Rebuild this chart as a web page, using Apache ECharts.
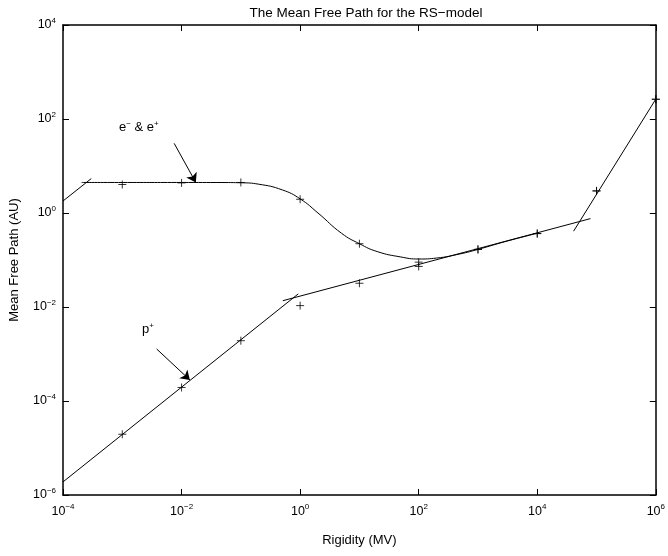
<!DOCTYPE html>
<html>
<head>
<meta charset="utf-8">
<script src="https://cdn.jsdelivr.net/npm/echarts@6/dist/echarts.min.js"></script>
<style>
html, body { margin: 0; padding: 0; background: #fff; }
#chart { width: 668px; height: 556px; }
</style>
</head>
<body>
<div id="chart"></div>
<script>
// values (Rigidity in MV, mean free path in AU)
var markX = [1e-3, 1e-2, 1e-1, 1, 10, 100, 1e3, 1e4, 1e5, 1e6];
var electronMarks = [4.04, 4.37, 4.46, 1.96, 0.222, 0.09, 0.168, 0.365, 2.95, 263];
var protonMarks = [1.96e-5, 1.94e-4, 1.92e-3, 0.0107, 0.032, 0.073, 0.168, 0.365, 2.95, 263];

var eCurveX = [2.06e-4, 1e-3, 1e-2, 0.05, 0.1, 0.2, 0.5, 1, 2, 5, 10, 20, 50, 100, 200, 500, 1e3, 3e3, 1e4];
var eCurveY = [4.46, 4.46, 4.46, 4.45, 4.4, 4.1, 3.1, 2.0, 1.0, 0.37, 0.222, 0.151, 0.116, 0.105, 0.11, 0.135, 0.168, 0.25, 0.37];
var eLeftX = [1e-4, 3.0e-4];
var eLeftY = [1.8, 5.4];
var pLowX = [1e-4, 0.93];
var pLowY = [1.9e-6, 0.019];
var pMidX = [0.51, 7.9e4];
var pMidY = [0.0136, 0.76];
var highX = [4.1e4, 1e6];
var highY = [0.41, 265];

function lg(v) { return Math.log(v) / Math.LN10; }
function pairs(xs, ys) {
	var out = [];
	for (var i = 0; i < xs.length; i++) {
		out.push([lg(xs[i]), lg(ys[i])]);
	}
	return out;
}
function powLabel(v) {
	var n = Math.round(v);
	return '{b|10}{s|' + (n < 0 ? '\u2212' + (-n) : n) + '}';
}
var font = 'Liberation Sans';
var rich = {
	b: { fontSize: 12.5, fontFamily: font, color: '#000' },
	s: { fontSize: 8, fontFamily: font, color: '#000', padding: [0, 0, 9, 0] }
};
var plus = 'path://M0,-1L0,1M-1,0L1,0';

function lineSeries(xs, ys, smooth) {
	return {
		type: 'line',
		data: pairs(xs, ys),
		showSymbol: false,
		smooth: smooth ? 0.5 : false,
		lineStyle: { color: '#000', width: 1 },
		silent: true
	};
}
function markSeries(ys) {
	return {
		type: 'scatter',
		data: pairs(markX, ys),
		symbol: plus,
		symbolSize: 8,
		clip: false,
		itemStyle: { color: 'none', borderColor: '#000', borderWidth: 1 },
		silent: true
	};
}
function axis(min, max, pos, labels) {
	return {
		type: 'value',
		show: true,
		gridIndex: 0,
		position: pos,
		min: min,
		max: max,
		interval: 2,
		axisLine: { show: true, onZero: false, lineStyle: { color: '#000', width: 1.5 } },
		axisTick: { show: true, inside: true, length: 6, interval: 0, lineStyle: { color: '#000', width: 1 } },
		axisLabel: labels ? { show: true, formatter: powLabel, rich: rich, margin: (pos === 'left' ? 7 : 8) } : { show: false },
		splitLine: { show: false }
	};
}

var chart = echarts.init(document.getElementById('chart'));
var xBottom = axis(-4, 6, 'bottom', true);
xBottom.name = 'Rigidity (MV)';
xBottom.nameLocation = 'middle';
xBottom.nameGap = 39;
xBottom.nameTextStyle = { fontSize: 13, fontFamily: font, color: '#000' };
var yLeft = axis(-6, 4, 'left', true);
yLeft.name = 'Mean Free Path (AU)';
yLeft.nameLocation = 'middle';
yLeft.nameGap = 42;
yLeft.nameTextStyle = { fontSize: 13, fontFamily: font, color: '#000' };

var option = {
	animation: false,
	backgroundColor: '#fff',
	title: {
		text: 'The Mean Free Path for the RS\u2212model',
		left: 361, top: 1, textAlign: 'center',
		textStyle: { fontSize: 13.5, fontWeight: 'normal', fontFamily: font, color: '#000' }
	},
	grid: { left: 63, right: 8, top: 25, bottom: 61 },
	xAxis: [xBottom, axis(-4, 6, 'top', false)],
	yAxis: [yLeft, axis(-6, 4, 'right', false)],
	series: [
		lineSeries(eLeftX, eLeftY, false),
		lineSeries(eCurveX, eCurveY, true),
		lineSeries(pLowX, pLowY, false),
		lineSeries(pMidX, pMidY, false),
		lineSeries(highX, highY, false),
		markSeries(electronMarks),
		markSeries(protonMarks),
		{
			type: 'line',
			data: [],
			markLine: {
				silent: true,
				symbol: ['none', 'arrow'],
				symbolSize: 9,
				label: { show: false },
				lineStyle: { color: '#000', width: 1, type: 'solid' },
				data: [
					[{ coord: [lg(0.0075), lg(30.3)] }, { coord: [lg(0.0174), lg(4.46)] }],
					[{ coord: [lg(0.0038), lg(1.28e-3)] }, { coord: [lg(0.0138), lg(2.8e-4)] }]
				]
			}
		}
	],
	graphic: [
		{
			type: 'text', left: 119, top: 120,
			style: {
				text: '{t|e}{s|\u2212}{t| & e}{s|+}',
				rich: {
					t: { fontSize: 13, fontFamily: font, fill: '#000' },
					s: { fontSize: 8, fontFamily: font, fill: '#000', padding: [0, 0, 7, 0] }
				}
			}
		},
		{
			type: 'text', left: 142, top: 322,
			style: {
				text: '{t|p}{s|+}',
				rich: {
					t: { fontSize: 13, fontFamily: font, fill: '#000' },
					s: { fontSize: 8, fontFamily: font, fill: '#000', padding: [0, 0, 7, 0] }
				}
			}
		}
	]
};
chart.setOption(option);
window.addEventListener('resize', chart.resize);
</script>
</body>
</html>
